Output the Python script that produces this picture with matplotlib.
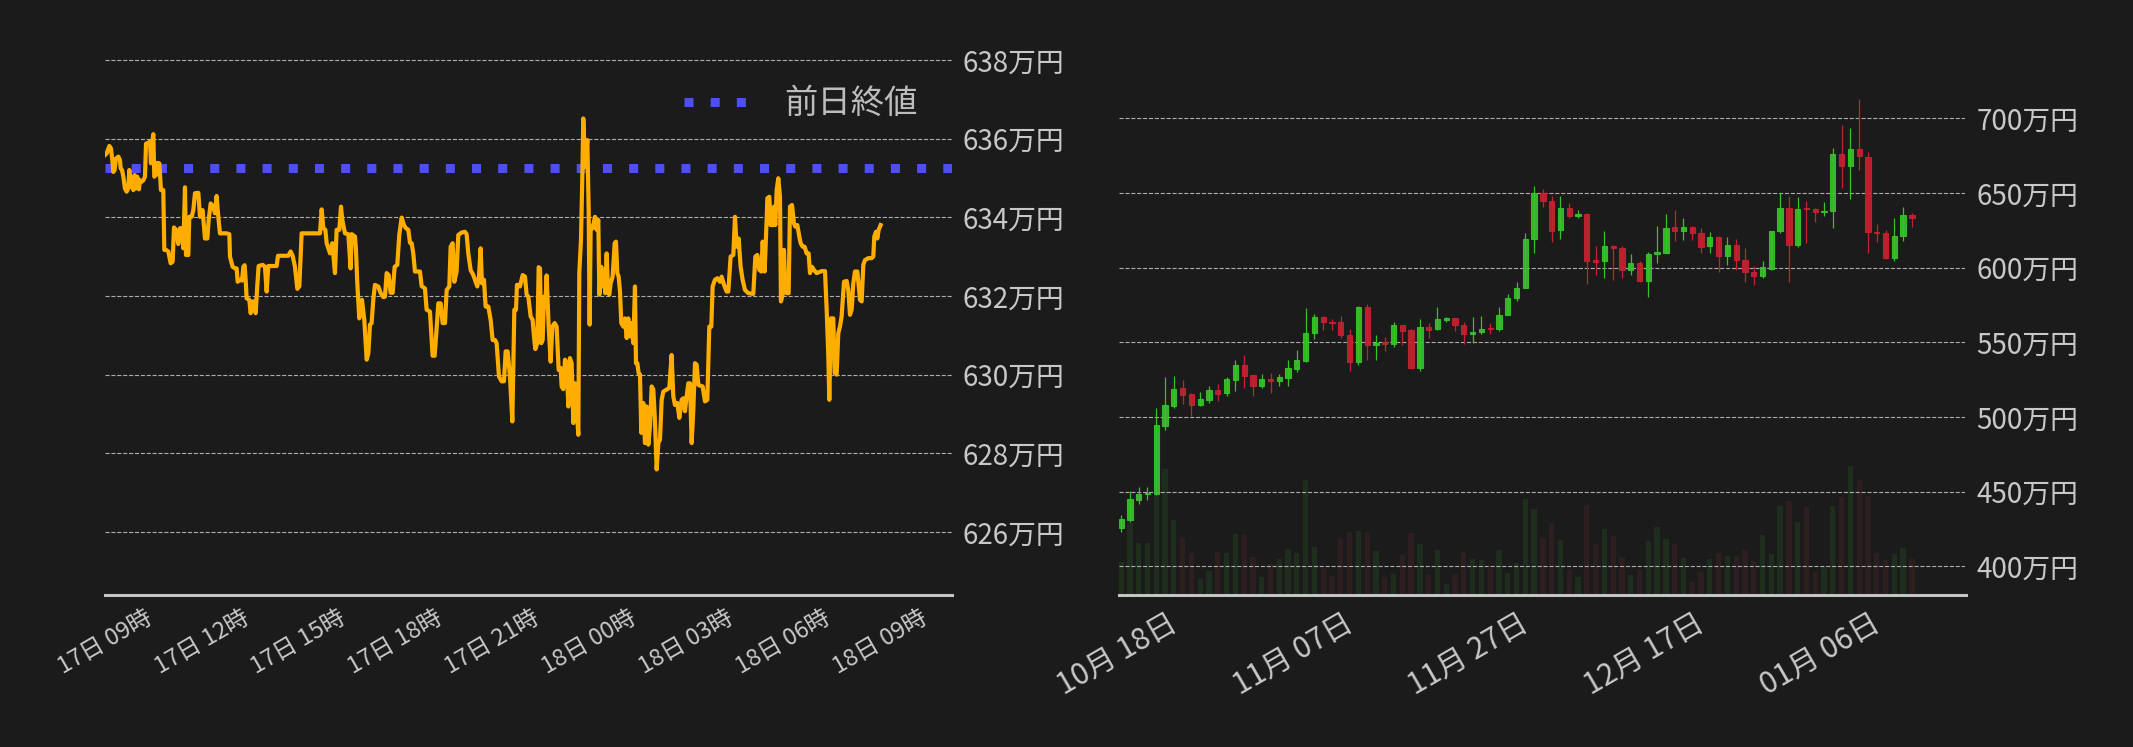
import matplotlib
matplotlib.use('Agg')
import matplotlib.pyplot as plt
import matplotlib.dates as mdates
from matplotlib.ticker import MultipleLocator, FuncFormatter
import pandas as pd

plt.rcParams['font.family'] = ['Noto Sans CJK JP', 'DejaVu Sans']

# --- intraday series: minutes after 17日 00:00, price in 万円 ---
day_start = pd.Timestamp('2025-01-17 00:00')
intraday_minutes = [
    444.9, 448.0, 453.0, 456.0, 458.5, 460.4, 462.8, 465.3, 469.7, 472.8, 474.0, 476.5, 479.0, 482.0,
    485.1, 488.2, 490.1, 492.6, 495.0, 497.5, 500.0, 502.5, 504.9, 508.0, 509.9, 513.0, 516.1, 519.2,
    521.1, 525.4, 528.5, 530.3, 532.8, 534.7, 536.5, 539.6, 542.1, 545.8, 548.9, 553.2, 555.1, 558.2,
    562.5, 566.9, 570.6, 573.1, 576.8, 581.1, 584.2, 587.9, 590.4, 593.5, 595.4, 599.7, 601.5, 605.9,
    609.0, 612.1, 618.3, 621.4, 626.3, 630.6, 635.0, 637.5, 641.2, 646.1, 649.2, 652.3, 655.4, 658.5,
    664.7, 670.9, 675.9, 677.1, 682.0, 686.4, 689.5, 691.3, 695.7, 699.4, 701.9, 704.3, 706.2, 708.0,
    713.0, 715.5, 719.2, 722.3, 724.8, 727.9, 730.3, 737.8, 742.1, 745.2, 748.3, 754.5, 763.8, 766.3,
    776.2, 785.5, 789.8, 793.5, 797.8, 802.2, 805.9, 810.2, 831.9, 844.3, 847.4, 850.5, 854.2, 856.7,
    862.9, 867.2, 872.1, 875.2, 880.2, 883.3, 885.8, 890.7, 896.9, 901.2, 903.1, 909.3, 911.1, 913.6,
    917.3, 922.3, 926.6, 931.0, 934.1, 937.2, 940.2, 943.3, 946.4, 952.6, 957.0, 961.9, 965.0, 968.1,
    971.8, 975.5, 979.3, 983.0, 987.9, 991.6, 996.0, 1000.3, 1004.0, 1008.4, 1011.5, 1014.6, 1017.6,
    1020.7, 1023.8, 1030.0, 1033.1, 1039.3, 1042.4, 1048.6, 1053.5, 1057.3, 1061.0, 1064.1, 1068.4,
    1072.1, 1076.5, 1079.6, 1084.5, 1087.0, 1090.7, 1093.8, 1098.1, 1101.2, 1107.4, 1113.6, 1116.7,
    1119.8, 1124.1, 1129.1, 1132.2, 1136.5, 1139.6, 1142.7, 1145.2, 1148.9, 1152.0, 1157.0, 1161.3,
    1165.0, 1169.4, 1172.4, 1176.8, 1181.7, 1186.1, 1189.2, 1192.9, 1197.2, 1201.6, 1205.3, 1208.4,
    1210.2, 1214.6, 1215.8, 1220.8, 1225.1, 1228.2, 1231.3, 1235.6, 1239.3, 1241.8, 1244.3, 1248.0,
    1250.5, 1253.0, 1255.4, 1257.9, 1260.4, 1262.9, 1265.3, 1269.1, 1272.8, 1275.9, 1280.2, 1283.9,
    1287.6, 1291.3, 1293.2, 1296.3, 1299.4, 1302.5, 1305.6, 1308.6, 1311.8, 1314.9, 1318.0, 1321.1,
    1324.2, 1326.0, 1329.1, 1331.6, 1333.4, 1337.2, 1340.9, 1343.4, 1345.2, 1347.1, 1350.8, 1355.1,
    1358.2, 1361.3, 1363.2, 1366.9, 1369.4, 1371.8, 1374.3, 1376.8, 1379.3, 1381.7, 1384.2, 1387.9,
    1391.7, 1394.1, 1396.6, 1399.1, 1401.6, 1404.0, 1407.8, 1410.8, 1414.0, 1417.0, 1420.1, 1423.2,
    1426.3, 1429.4, 1431.3, 1433.8, 1436.2, 1438.7, 1441.2, 1444.9, 1448.0, 1451.1, 1454.2, 1457.3,
    1460.4, 1463.5, 1466.6, 1469.7, 1472.8, 1475.9, 1479.0, 1482.1, 1488.2, 1493.2, 1497.5, 1500.6,
    1503.7, 1508.1, 1511.8, 1516.1, 1519.2, 1522.3, 1525.4, 1528.5, 1531.6, 1534.7, 1537.8, 1540.9,
    1544.0, 1547.1, 1550.2, 1555.1, 1559.5, 1563.8, 1567.5, 1571.2, 1573.7, 1578.0, 1582.4, 1587.3,
    1590.4, 1594.8, 1599.7, 1602.8, 1607.1, 1612.1, 1615.2, 1618.3, 1622.0, 1625.7, 1629.4, 1633.8,
    1640.0, 1649.2, 1653.0, 1656.7, 1660.4, 1664.1, 1666.6, 1670.3, 1674.0, 1675.3, 1679.0, 1681.4,
    1685.2, 1687.6, 1690.1, 1692.6, 1695.7, 1698.8, 1700.6, 1703.7, 1706.2, 1708.7, 1711.2, 1714.9,
    1717.4, 1721.1, 1724.8, 1727.3, 1731.0, 1734.7, 1737.2, 1740.9, 1744.6, 1748.3, 1752.0, 1754.5,
    1758.2, 1761.9, 1766.9, 1776.2, 1782.4, 1785.5, 1788.6, 1790.4, 1793.5, 1797.8, 1800.3, 1804.0,
    1807.1, 1810.2, 1813.3, 1817.7, 1822.6, 1825.7, 1828.8, 1831.9, 1835.0, 1838.1, 1842.5, 1847.4,
    1850.5, 1853.6, 1856.7, 1862.9, 1869.0, 1872.1, 1874.0, 1877.1, 1879.6, 1882.1, 1885.8,
]
intraday_price = [
    635.58, 635.62, 635.81, 635.75, 635.45, 635.15, 635.20, 635.49, 635.54, 635.45, 635.24, 635.20, 635.03, 634.73,
    634.65, 634.73, 635.20, 634.77, 635.03, 634.69, 635.07, 634.73, 635.03, 634.71, 634.94, 634.90, 634.94, 635.03,
    635.87, 635.89, 635.92, 635.37, 635.92, 636.11, 635.03, 635.07, 635.38, 635.37, 634.69, 634.69, 633.17, 633.17,
    633.13, 632.83, 632.87, 633.74, 633.68, 633.32, 633.72, 633.72, 633.21, 634.76, 633.04, 633.04, 634.01, 634.01,
    634.18, 634.61, 634.62, 634.01, 634.18, 633.46, 633.46, 633.93, 634.35, 634.27, 634.10, 634.54, 634.01, 633.59,
    633.59, 633.59, 633.57, 633.00, 632.74, 632.70, 632.70, 632.36, 632.41, 632.39, 632.74, 632.78, 632.41, 631.94,
    631.90, 631.56, 631.86, 631.86, 631.56, 632.28, 632.76, 632.79, 632.74, 632.11, 632.76, 632.76, 632.76, 633.02,
    633.02, 633.02, 633.13, 633.02, 632.74, 632.18, 632.24, 633.59, 633.59, 633.59, 634.20, 633.72, 633.68, 633.34,
    633.08, 633.34, 632.58, 633.68, 633.68, 634.27, 633.93, 633.59, 633.57, 632.70, 633.57, 633.51, 633.17, 632.32,
    631.43, 631.90, 631.39, 630.38, 630.54, 631.27, 631.31, 631.90, 632.28, 632.24, 632.07, 631.97, 631.98, 632.58,
    632.53, 632.08, 632.08, 632.74, 632.79, 633.55, 633.99, 633.80, 633.72, 633.68, 633.35, 633.34, 633.08,
    632.62, 632.62, 632.62, 632.25, 632.19, 631.65, 631.60, 630.48, 630.48, 631.18, 631.81, 631.81,
    631.31, 631.31, 632.15, 632.24, 633.25, 633.34, 632.36, 632.62, 633.55, 633.61, 633.63, 633.57,
    633.08, 632.66, 632.53, 632.41, 632.24, 632.49, 633.21, 632.32, 632.41, 631.73, 631.73, 631.39,
    630.88, 630.88, 630.80, 629.95, 629.83, 629.83, 630.59, 630.59, 629.95, 628.81, 631.65, 631.65,
    632.28, 632.28, 632.24, 632.53, 632.49, 632.03, 631.98, 631.48, 631.39, 630.97, 630.65, 630.80,
    632.73, 632.70, 630.80, 630.88, 631.98, 631.73, 632.52, 631.22, 630.33, 631.22, 631.31, 631.22,
    630.12, 630.17, 629.70, 629.63, 630.38, 630.29, 629.19, 630.42, 630.29, 628.77, 629.78, 629.11,
    628.47, 632.58, 633.42, 635.03, 636.51, 635.28, 635.96, 634.18, 631.27, 633.76, 633.72, 634.01,
    633.68, 633.93, 632.03, 632.74, 632.24, 632.66, 632.07, 633.08, 632.15, 632.03, 632.32, 632.49,
    633.34, 633.38, 632.58, 632.49, 632.11, 631.31, 631.22, 631.43, 630.93, 631.43, 630.97, 631.31,
    630.80, 632.24, 630.29, 630.29, 630.04, 630.00, 628.52, 629.28, 628.26, 629.19, 628.22, 628.68,
    629.70, 629.62, 628.81, 627.59, 628.26, 628.35, 629.36, 629.57, 629.62, 629.66, 630.50, 629.45,
    629.23, 629.28, 628.90, 629.36, 629.40, 629.07, 629.45, 629.78, 629.78, 628.26, 629.11, 630.29,
    630.25, 629.74, 629.72, 629.70, 629.32, 629.36, 631.22, 631.22, 632.24, 632.41, 632.45, 632.36,
    632.49, 632.28, 632.11, 632.11, 633.00, 633.04, 634.01, 633.25, 633.46, 632.74, 632.41, 632.15,
    632.07, 632.05, 633.00, 633.04, 632.66, 632.62, 633.38, 632.62, 633.93, 634.48, 634.52, 633.80,
    633.80, 634.27, 633.80, 634.69, 634.99, 634.52, 631.86, 632.03, 633.17, 632.15, 632.07, 632.07,
    634.27, 634.31, 633.84, 633.76, 633.80, 633.51, 633.34, 633.25, 633.25, 633.08, 633.08, 632.58,
    632.74, 632.66, 632.58, 632.63, 632.63, 631.65, 630.46, 629.36, 631.43, 631.43, 630.04, 630.00,
    631.05, 631.22, 631.48, 632.36, 632.38, 632.15, 631.52, 631.65, 632.32, 632.62, 632.62, 631.90,
    631.86, 632.79, 632.91, 632.96, 632.96, 633.00, 633.51, 633.63, 633.46, 633.68, 633.80,
]
prev_close = 635.25
intraday_xlim_minutes = (444.0, 2017.4)

# --- daily candles (万円) starting 2024-10-11 ---
candle_start = '2024-10-11'
opens = [
    425.8, 431.2, 444.5, 448.1, 448.6, 494.0, 507.3, 519.2, 515.1, 508.0, 511.4, 517.8, 516.0, 524.7,
    534.5, 527.8, 520.7, 525.2, 524.1, 526.1, 532.3, 537.4, 556.1, 566.6, 563.9, 563.3, 555.0, 536.7,
    573.9, 548.1, 550.3, 549.0, 561.7, 557.9, 532.7, 559.9, 558.8, 564.8, 566.4, 561.7, 555.5, 556.8,
    559.2, 558.8, 568.2, 579.5, 586.2, 618.9, 649.7, 644.8, 625.0, 640.1, 634.3, 635.9, 604.7, 604.2,
    614.7, 613.4, 598.2, 603.3, 590.9, 608.9, 609.6, 627.4, 624.3, 627.4, 623.4, 614.3, 620.7, 607.6,
    615.4, 605.3, 597.3, 594.2, 599.3, 624.3, 640.1, 614.9, 639.4, 639.4, 637.0, 637.6, 676.2, 667.7,
    679.5, 674.2, 624.1, 623.4, 606.7, 620.9, 635.4,
]
closes = [
    431.6, 445.0, 448.1, 449.0, 494.4, 507.8, 518.5, 514.7, 508.0, 511.8, 517.8, 515.4, 525.2, 534.5,
    527.4, 520.7, 525.2, 524.1, 526.5, 532.5, 537.9, 556.3, 566.6, 563.5, 563.0, 554.8, 536.7, 573.9,
    548.1, 549.2, 548.8, 561.7, 557.5, 532.7, 559.9, 558.1, 565.3, 566.4, 561.5, 555.5, 557.0, 559.0,
    558.8, 568.4, 579.7, 586.4, 619.2, 649.7, 644.3, 624.3, 640.1, 634.3, 635.9, 604.2, 604.0, 614.7,
    612.9, 598.2, 603.3, 590.9, 609.4, 610.2, 626.7, 624.3, 627.4, 622.9, 613.6, 620.7, 607.6, 615.4,
    604.9, 596.9, 594.2, 600.2, 624.7, 640.1, 614.9, 639.4, 639.0, 637.0, 637.4, 676.2, 667.7, 679.5,
    674.4, 623.6, 622.9, 606.7, 621.4, 635.4, 633.4,
]
highs = [
    434.3, 450.6, 452.8, 452.8, 506.2, 526.5, 527.2, 524.5, 515.8, 516.5, 520.5, 521.8, 526.5, 538.0,
    541.2, 527.8, 528.5, 529.2, 528.5, 537.9, 544.5, 573.0, 568.6, 567.9, 565.3, 567.9, 559.2, 574.6,
    575.3, 554.6, 553.2, 563.3, 561.7, 558.6, 565.3, 562.6, 573.9, 567.0, 566.4, 563.3, 566.6, 567.9,
    562.6, 573.9, 582.6, 590.6, 623.2, 654.6, 652.8, 648.1, 648.1, 643.4, 638.8, 636.5, 614.7, 624.7,
    615.1, 614.7, 609.4, 604.5, 610.7, 628.1, 636.1, 638.8, 633.4, 628.1, 626.7, 624.1, 621.4, 620.7,
    619.4, 613.4, 601.3, 604.5, 624.7, 649.9, 648.1, 647.4, 644.8, 639.9, 644.1, 680.2, 695.5, 693.5,
    712.9, 677.5, 629.4, 625.4, 633.4, 640.8, 636.8,
]
lows = [
    423.2, 429.8, 441.9, 444.5, 447.7, 491.3, 506.0, 508.5, 500.7, 507.5, 509.4, 510.7, 514.0, 517.2,
    519.4, 514.0, 519.4, 516.0, 520.7, 520.7, 530.0, 536.7, 552.1, 558.1, 558.1, 552.8, 530.7, 534.7,
    538.0, 538.0, 544.1, 546.8, 548.1, 532.7, 530.7, 552.8, 558.1, 563.5, 557.5, 548.8, 549.4, 555.5,
    555.5, 557.5, 568.0, 577.5, 586.0, 610.0, 640.3, 617.4, 619.4, 633.0, 633.0, 589.3, 594.7, 592.7,
    592.0, 592.7, 595.3, 590.2, 580.2, 602.9, 609.6, 618.0, 618.7, 618.7, 610.0, 610.0, 596.9, 602.0,
    598.2, 590.2, 588.2, 592.7, 598.2, 623.4, 590.2, 613.6, 616.3, 630.3, 634.3, 626.3, 653.0, 645.7,
    665.0, 610.0, 617.4, 606.0, 604.7, 618.0, 627.4,
]
volumes = [
    99, 217, 157, 157, 300, 378, 225, 171, 126, 48, 72, 129, 126, 183,
    180, 114, 54, 93, 108, 138, 126, 345, 144, 81, 57, 168, 189, 192,
    189, 132, 54, 63, 120, 186, 153, 60, 135, 33, 63, 129, 108, 105,
    81, 135, 66, 96, 288, 258, 171, 216, 165, 75, 54, 270, 153, 198,
    177, 114, 60, 75, 162, 204, 168, 153, 111, 39, 69, 108, 126, 117,
    117, 135, 102, 180, 123, 267, 282, 219, 264, 69, 84, 267, 294, 387,
    345, 297, 126, 105, 123, 141, 108,
]
daily_ticks = ['2024-10-18', '2024-11-07', '2024-11-27', '2024-12-17', '2025-01-06']

BG = '#1b1b1b'
TEXT = '#c8c8c8'
GRID = '#c8c8c8'
UP, DOWN = '#38c22a', '#c42230'
UP_VOL, DOWN_VOL = '#1e2d1e', '#2d1e20'


def style_axis(ax, ytick_fmt):
    ax.set_facecolor(BG)
    for side in ['top', 'left', 'right']:
        ax.spines[side].set_visible(False)
    ax.spines['bottom'].set_color('#c4c4c4')
    ax.spines['bottom'].set_linewidth(2.2)
    ax.yaxis.tick_right()
    ax.tick_params(axis='both', length=0, colors=TEXT)
    ax.tick_params(axis='y', labelsize=20, pad=8)
    ax.yaxis.set_major_formatter(FuncFormatter(ytick_fmt))
    ax.grid(axis='y', linestyle='--', color=GRID, linewidth=0.8, alpha=0.85)
    ax.set_axisbelow(True)


fig = plt.figure(figsize=(21.33, 7.47), dpi=100, facecolor=BG)
W, H = 2133, 747

# ---- left: intraday line ----
ax1 = fig.add_axes([104.5 / W, 152 / H, 847 / W, 547 / H])
style_axis(ax1, lambda v, p: f'{v:.0f}万円')
times = [day_start + pd.Timedelta(minutes=m) for m in intraday_minutes]
ax1.plot(times, intraday_price, color='#ffae00', linewidth=3, zorder=3)
pc = ax1.axhline(prev_close, color='#4f4ff0', linewidth=6.5, dashes=(1, 1.9),
                 dash_capstyle='butt', zorder=2, label='前日終値')
ax1.set_ylim(624.40, 638.30)
ax1.yaxis.set_major_locator(MultipleLocator(2))
ax1.set_xlim(day_start + pd.Timedelta(minutes=intraday_xlim_minutes[0]),
             day_start + pd.Timedelta(minutes=intraday_xlim_minutes[1]))
ax1.xaxis.set_major_locator(mdates.HourLocator(byhour=range(0, 24, 3)))
ax1.xaxis.set_major_formatter(mdates.DateFormatter('%d日 %H時'))
ax1.tick_params(axis='x', labelsize=17, pad=8)
plt.setp(ax1.get_xticklabels(), rotation=30, ha='right')
leg = ax1.legend(handles=[pc], loc='upper right', bbox_to_anchor=(0.96, 0.93),
                 frameon=False, fontsize=24, handlelength=1.85, handletextpad=1.15,
                 borderpad=0, borderaxespad=0)
for t in leg.get_texts():
    t.set_color('#bdbdbd')

# ---- right: daily candles + volume ----
ax_vol = fig.add_axes([1118.5 / W, 152 / H, 847 / W, 547 / H])
ax_vol.set_facecolor(BG)
for side in ['top', 'left', 'right']:
    ax_vol.spines[side].set_visible(False)
ax_vol.spines['bottom'].set_color('#c4c4c4')
ax_vol.spines['bottom'].set_linewidth(2.2)
ax_vol.set_yticks([])

dates = pd.date_range(candle_start, periods=len(opens), freq='D')
x = mdates.date2num(dates)
is_up = [c >= o for o, c in zip(opens, closes)]
ax_vol.bar(x, volumes, width=0.6, color=[UP_VOL if u else DOWN_VOL for u in is_up])
ax_vol.set_ylim(0, max(volumes) * 4.24)

ax2 = ax_vol.twinx()
style_axis(ax2, lambda v, p: f'{v:.0f}万円')
ax2.set_facecolor('none')
ax2.spines['bottom'].set_visible(False)
cols = [UP if u else DOWN for u in is_up]
ax2.vlines(x, lows, highs, colors=cols, linewidth=0.9, zorder=3)
body_lo = [min(o, c) for o, c in zip(opens, closes)]
body_h = [max(abs(c - o), 0.9) for o, c in zip(opens, closes)]
ax2.bar(x, body_h, bottom=body_lo, width=0.6, color=cols, alpha=0.92,
        edgecolor=cols, linewidth=0.8, zorder=4)
ax2.set_ylim(380.8, 747)
ax2.yaxis.set_major_locator(MultipleLocator(50))
ax_vol.set_xlim(x[0] - 0.3, x[0] + 96.1)
ax_vol.set_xticks(mdates.date2num(pd.to_datetime(daily_ticks)))
ax_vol.xaxis.set_major_formatter(mdates.DateFormatter('%m月 %d日'))
ax_vol.tick_params(axis='x', length=0, labelsize=21.5, colors=TEXT, pad=9)
plt.setp(ax_vol.get_xticklabels(), rotation=30, ha='right')

fig.savefig('out.png', dpi=100, facecolor=BG)
